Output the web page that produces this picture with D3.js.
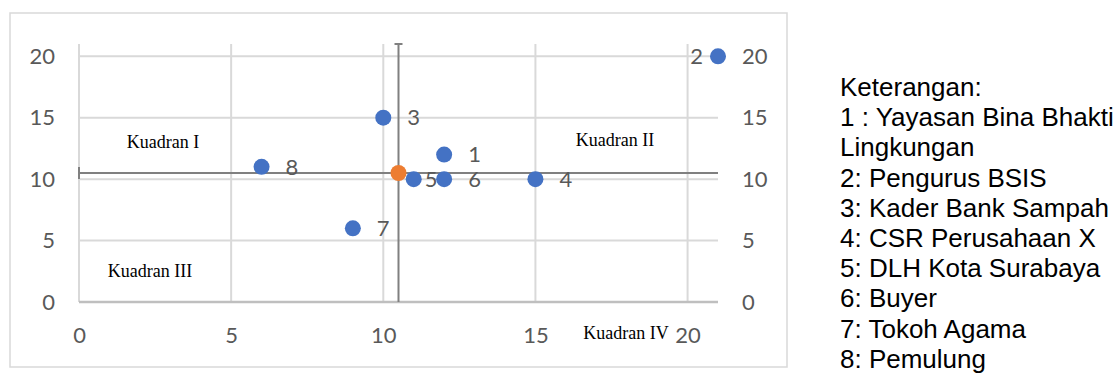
<!DOCTYPE html>
<html>
<head>
<meta charset="utf-8">
<script src="https://cdn.jsdelivr.net/npm/d3@7"></script>
<style>
  body { margin: 0; background: #fff; }
  svg { display: block; }
</style>
</head>
<body>
<div id="container"></div>
<script>
// data
let pointIds = ["1", "2", "3", "4", "5", "6", "7", "8"];
let xValues = [12, 21, 10, 15, 11, 12, 9, 6];
let yValues = [12, 20, 15, 10, 10, 10, 6, 11];
let meanPoint = [10.5, 10.5];
let errorAmount = 10.5;
let xTicks = [0, 5, 10, 15, 20];
let yTicks = [0, 5, 10, 15, 20];
let quadrantNames = ["Kuadran I", "Kuadran II", "Kuadran III", "Kuadran IV"];
let legendTitle = "Keterangan:";
let legendLines = [
  "1 : Yayasan Bina Bhakti",
  "Lingkungan",
  "2: Pengurus BSIS",
  "3: Kader Bank Sampah",
  "4: CSR Perusahaan X",
  "5: DLH Kota Surabaya",
  "6: Buyer",
  "7: Tokoh Agama",
  "8: Pemulung"
];

let w = 1119;
let h = 373;
let viz = d3.select("#container")
  .append("svg")
    .attr("width", w)
    .attr("height", h)
;

let tickFont = "Lato, 'Open Sans', sans-serif";
let grey = "#595959";

// outer chart frame
viz.append("rect")
    .attr("x", 10)
    .attr("y", 13)
    .attr("width", 777)
    .attr("height", 354)
    .attr("fill", "none")
    .attr("stroke", "#d9d9d9")
    .attr("stroke-width", 1.5)
;

let xScale = d3.scaleLinear().domain([0, 21]).range([79, 718]);
let yScale = d3.scaleLinear().domain([0, 21]).range([302, 44]);

// gridlines
viz.append("g").selectAll("line").data(xTicks).enter()
  .append("line")
    .attr("x1", d => xScale(d)).attr("x2", d => xScale(d))
    .attr("y1", yScale(0)).attr("y2", yScale(21))
    .attr("stroke", "#d9d9d9").attr("stroke-width", 2)
;
viz.append("g").selectAll("line").data(yTicks.filter(d => d > 0)).enter()
  .append("line")
    .attr("x1", xScale(0)).attr("x2", xScale(21))
    .attr("y1", d => yScale(d)).attr("y2", d => yScale(d))
    .attr("stroke", "#d9d9d9").attr("stroke-width", 2)
;
// bottom axis line
viz.append("line")
    .attr("x1", xScale(0)).attr("x2", xScale(21))
    .attr("y1", yScale(0)).attr("y2", yScale(0))
    .attr("stroke", "#bfbfbf").attr("stroke-width", 2.5)
;

// tick labels (left, right and bottom)
let xAxis = d3.axisBottom(xScale).tickValues(xTicks).tickSize(0).tickPadding(0);
let xAxisGroup = viz.append("g")
    .attr("class", "xaxisgroup")
    .attr("transform", "translate(0,327)")
    .call(xAxis);
let yAxisLeft = d3.axisLeft(yScale).tickValues(yTicks).tickSize(0).tickPadding(0);
let yLeftGroup = viz.append("g")
    .attr("class", "yaxisleft")
    .attr("transform", "translate(55,0)")
    .call(yAxisLeft);
let yAxisRight = d3.axisRight(yScale).tickValues(yTicks).tickSize(0).tickPadding(0);
let yRightGroup = viz.append("g")
    .attr("class", "yaxisright")
    .attr("transform", "translate(742,0)")
    .call(yAxisRight);

[xAxisGroup, yLeftGroup, yRightGroup].forEach(function(g){
  g.select(".domain").remove();
  g.selectAll("text")
    .attr("fill", grey)
    .style("font-family", tickFont)
    .style("font-size", "22px");
});

// error bars round the mean point
let ex0 = xScale(meanPoint[0] - errorAmount);
let ex1 = xScale(meanPoint[0] + errorAmount);
let ey0 = yScale(meanPoint[1] - errorAmount);
let ey1 = yScale(meanPoint[1] + errorAmount);
let cx = xScale(meanPoint[0]);
let cy = yScale(meanPoint[1]);
let err = viz.append("g").attr("stroke", "#808080").attr("stroke-width", 2);
err.append("line").attr("x1", ex0).attr("x2", ex1).attr("y1", cy).attr("y2", cy);
err.append("line").attr("x1", ex0).attr("x2", ex0).attr("y1", cy - 6).attr("y2", cy + 6);
err.append("line").attr("x1", cx).attr("x2", cx).attr("y1", ey0).attr("y2", ey1);
err.append("line").attr("x1", cx - 4).attr("x2", cx + 4).attr("y1", ey1).attr("y2", ey1);

// quadrant labels
let quadPos = [[163, 148], [615, 146], [150, 277], [626, 339]];
viz.append("g").selectAll("text").data(quadrantNames).enter()
  .append("text")
    .attr("x", (d, i) => quadPos[i][0])
    .attr("y", (d, i) => quadPos[i][1])
    .attr("text-anchor", "middle")
    .style("font-family", "'Liberation Serif', 'Times New Roman', serif")
    .style("font-size", "18px")
    .attr("fill", "#000")
    .text(d => d)
;

// the stakeholder points
let points = pointIds.map(function(id, i){
  return { id: id, x: xValues[i], y: yValues[i] };
});

viz.append("g").selectAll("circle").data(points).enter()
  .append("circle")
    .attr("cx", d => xScale(d.x))
    .attr("cy", d => yScale(d.y))
    .attr("r", 8)
    .attr("fill", "#4472c4")
;

viz.append("circle")
    .attr("cx", cx)
    .attr("cy", cy)
    .attr("r", 8)
    .attr("fill", "#ed7d31")
;

// data labels: right of the point, "2" sits left, "5" was nudged in
viz.append("g").selectAll("text").data(points).enter()
  .append("text")
    .attr("x", function(d){
      if (d.id == "2") return xScale(d.x) - 15;
      if (d.id == "5") return xScale(d.x) + 11;
      return xScale(d.x) + 24;
    })
    .attr("y", d => yScale(d.y))
    .attr("dy", "0.35em")
    .attr("text-anchor", d => d.id == "2" ? "end" : "start")
    .attr("fill", grey)
    .style("font-family", tickFont)
    .style("font-size", "22px")
    .text(d => d.id)
;

// legend text beside the chart
let legend = viz.append("g")
    .style("font-family", "'Liberation Sans', Arial, sans-serif")
    .style("font-size", "26px")
    .attr("fill", "#000");
legend.selectAll("text").data([legendTitle].concat(legendLines)).enter()
  .append("text")
    .attr("x", 840)
    .attr("y", (d, i) => 96 + i * 30.2)
    .text(d => d)
;
</script>
</body>
</html>
